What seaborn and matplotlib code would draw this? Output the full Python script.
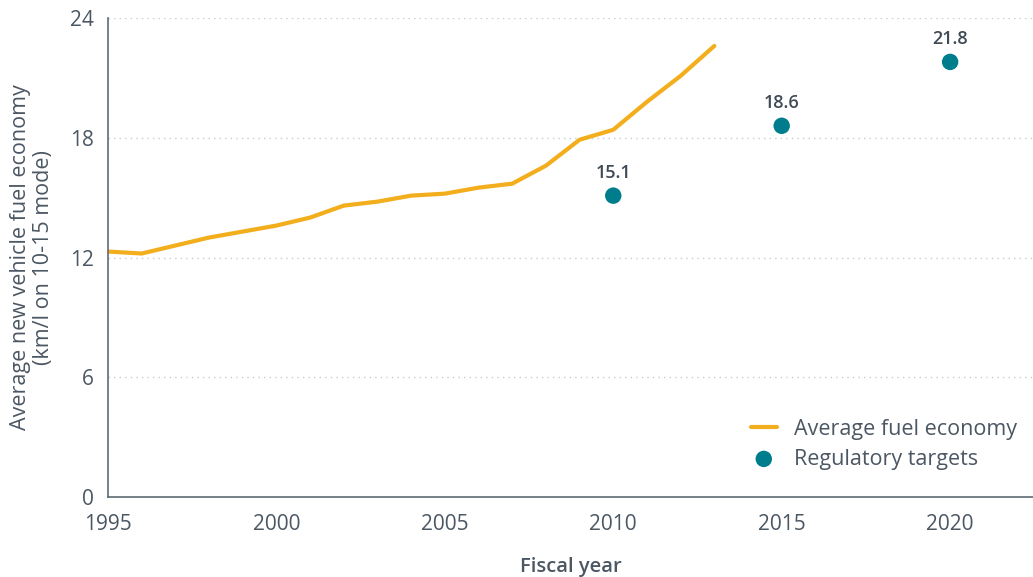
import pandas as pd
import matplotlib
matplotlib.use('Agg')
import matplotlib.pyplot as plt
import seaborn as sns

# average new vehicle fuel economy (km/l, 10-15 mode)
years = [1995, 1996, 1997, 1998, 1999, 2000, 2001, 2002, 2003, 2004,
         2005, 2006, 2007, 2008, 2009, 2010, 2011, 2012, 2013]
fuel_economy = [12.3, 12.2, 12.6, 13.0, 13.3, 13.6, 14.0, 14.6, 14.8, 15.1,
                15.2, 15.5, 15.7, 16.6, 17.9, 18.4, 19.8, 21.1, 22.6]

# regulatory targets
target_years = [2010, 2015, 2020]
target_values = [15.1, 18.6, 21.8]

x_ticks = [1995, 2000, 2005, 2010, 2015, 2020]
y_ticks = [0, 6, 12, 18, 24]

LINE_COLOR = "#F2AE1C"
DOT_COLOR = "#007D8C"
TEXT_COLOR = "#4B5763"
AXIS_COLOR = "#5F6B73"

sns.set_style("white")
plt.rcParams['font.family'] = ['Open Sans', 'DejaVu Sans']

df_line = pd.DataFrame({"year": years, "value": fuel_economy})
df_targets = pd.DataFrame({"year": target_years, "value": target_values})

fig = plt.figure(figsize=(10.33, 5.77), dpi=100)
ax = fig.add_axes([0.1045, 0.1386, 0.8955, 0.8302])

sns.lineplot(data=df_line, x="year", y="value", ax=ax, color=LINE_COLOR,
             linewidth=3, label="Average fuel economy", solid_capstyle="round")
sns.scatterplot(data=df_targets, x="year", y="value", ax=ax, color=DOT_COLOR,
                s=140, edgecolor="none", label="Regulatory targets", zorder=3)

for yr, val in zip(target_years, target_values):
    ax.annotate(f"{val:.1f}", (yr, val), xytext=(0, 10), textcoords="offset points",
                ha="center", va="bottom", fontsize=13, fontweight="semibold",
                color="#3F4A55")

ax.set_xlim(1995, 2022.46)
ax.set_ylim(0, 24)
ax.set_xticks(x_ticks)
ax.set_yticks(y_ticks)
ax.tick_params(axis="both", length=0, labelsize=15, colors=TEXT_COLOR)
ax.tick_params(axis="x", pad=12)
ax.tick_params(axis="y", pad=10)

ax.grid(axis="y", linestyle=(0, (1, 3)), color="#C8CBCE", linewidth=1)
ax.grid(axis="x", visible=False)
for side in ["top", "right"]:
    ax.spines[side].set_visible(False)
for side in ["left", "bottom"]:
    ax.spines[side].set_color(AXIS_COLOR)
    ax.spines[side].set_linewidth(1.2)

ax.set_xlabel("Fiscal year", fontsize=14.5, fontweight="semibold", color=TEXT_COLOR, labelpad=16)
ax.set_ylabel("Average new vehicle fuel economy\n(km/l on 10-15 mode)", fontsize=15.5,
              fontweight="medium", color=TEXT_COLOR, labelpad=12, linespacing=1.1)

leg = ax.legend(loc="upper left", bbox_to_anchor=(0.695, 0.163), frameon=False,
                borderaxespad=0, borderpad=0,
                fontsize=15.5, handlelength=1.2, handletextpad=0.8, labelspacing=0.4)
for t in leg.get_texts():
    t.set_color(TEXT_COLOR)

fig.savefig("out.png", dpi=100)
plt.close(fig)
